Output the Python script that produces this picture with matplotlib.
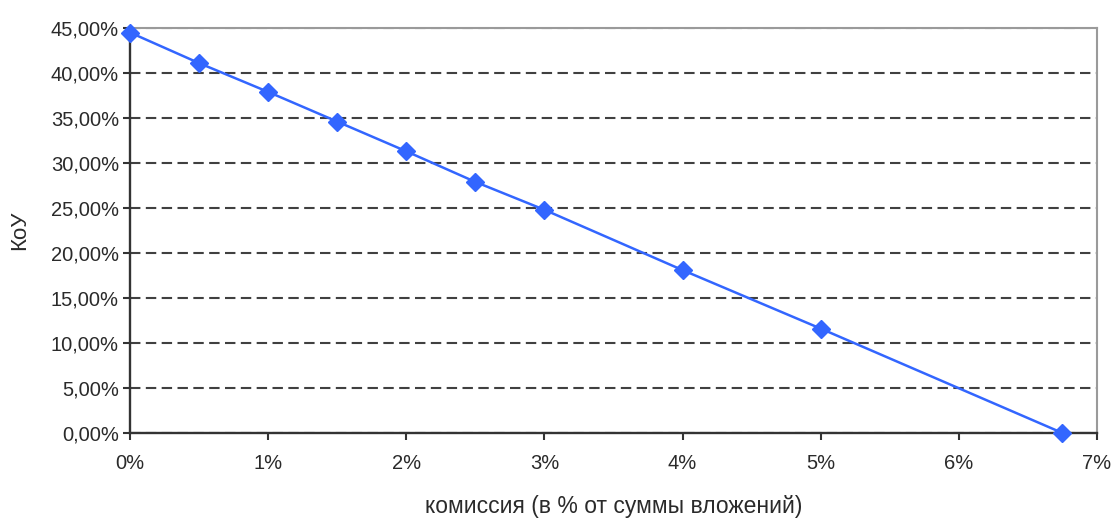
import matplotlib
matplotlib.use("Agg")
import matplotlib.pyplot as plt
from matplotlib.ticker import FuncFormatter, MultipleLocator

# commission, % of invested sum
commission = [0, 0.5, 1, 1.5, 2, 2.5, 3, 4, 5, 6.75]
# KoU, %
kou = [44.5, 41.1, 37.9, 34.6, 31.3, 27.9, 24.8, 18.1, 11.6, 0.0]

x_label = "комиссия (в % от суммы вложений)"
y_label = "КоУ"

plt.rcParams["font.family"] = ["Liberation Sans", "DejaVu Sans"]

fig = plt.figure(figsize=(11.14, 5.2), dpi=100)
fig.patch.set_facecolor("white")
ax = fig.add_axes([130 / 1114, 1 - 433 / 520, (1097 - 130) / 1114, (433 - 28) / 520])

ax.set_xlim(0, 7)
ax.set_ylim(0, 45)

# dashed horizontal grid
ax.yaxis.set_major_locator(MultipleLocator(5))
ax.xaxis.set_major_locator(MultipleLocator(1))
ax.grid(axis="y", color="#404040", linestyle=(0, (5, 2.6)), linewidth=1.5)
ax.set_axisbelow(True)

ax.plot(commission, kou, color="#3366ff", linewidth=1.8,
        marker="D", markersize=9.5, markeredgecolor="#3366ff",
        clip_on=False, zorder=3)

ax.yaxis.set_major_formatter(FuncFormatter(lambda v, p: f"{v:.2f}%".replace(".", ",")))
ax.xaxis.set_major_formatter(FuncFormatter(lambda v, p: f"{v:.0f}%"))

for side in ("left", "bottom"):
    ax.spines[side].set_color("#333333")
    ax.spines[side].set_linewidth(1.7)
for side in ("top", "right"):
    ax.spines[side].set_color("#9a9a9a")
    ax.spines[side].set_linewidth(1.5)

ax.tick_params(axis="both", direction="out", length=5, width=1.5,
               color="#333333", labelsize=14.5, labelcolor="#2a2a2a")
ax.tick_params(axis="y", pad=3)
ax.tick_params(axis="x", pad=10)

ax.set_xlabel(x_label, fontsize=16.5, color="#2a2a2a")
ax.xaxis.label.set_va("center")
ax.xaxis.set_label_coords(0.5, (433 - 507) / 405)
ax.set_ylabel(y_label, fontsize=16, color="#2a2a2a")
ax.yaxis.label.set_va("center")
ax.yaxis.set_label_coords((20 - 130) / 967, 0.5)

fig.savefig("out.png", dpi=100, facecolor="white")
